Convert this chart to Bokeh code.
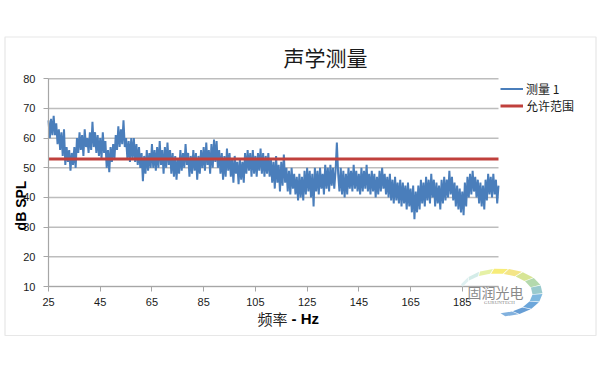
import math
from bokeh.plotting import figure
from bokeh.models import (Label, Legend, LegendItem, FixedTicker, Range1d, LinearAxis,
                          BoxAnnotation, PolyAnnotation)
from bokeh.embed import file_html
from bokeh.resources import INLINE

# ---------------- data ----------------
title_text = "声学测量"
x_title_cn = "频率"
x_title_en = "- Hz"
y_title = "dB SPL"
series_name = "测量 1"
limit_name = "允许范围"

freq_start = 25.0
freq_step = 0.5
spl = [
    66, 60, 66.5, 61, 67.5, 61, 65, 58, 63, 56,
    62, 54, 63, 51, 57, 52, 56, 49, 55, 51,
    57, 50, 60, 55, 62, 56, 61, 54, 63, 57,
    60, 55, 62, 56, 65.5, 57, 62, 55, 61, 54,
    60, 53, 62, 55, 59, 50, 56, 48.5, 57, 52,
    58, 53, 61, 56, 64, 57, 63, 58, 66, 57,
    60, 53, 59, 52, 60, 53, 60, 52, 58, 51,
    57, 50, 55, 45.5, 54, 48, 56, 49, 55, 50,
    58, 50, 56, 49, 57, 50, 59, 51, 56, 48,
    57, 50, 58.5, 51, 56, 48, 55, 47, 54, 46,
    53, 48, 56, 49, 55, 50, 58, 51, 55, 47,
    54, 48, 56, 49, 55, 46, 54, 48, 56, 50,
    57, 49, 58.5, 51, 56, 48, 58, 50, 59.5, 52,
    59, 50, 56, 48, 55, 46, 54, 47, 56.5, 49,
    55, 47, 53, 45, 54, 48, 52, 44.5, 53, 46,
    52, 45, 55, 48, 56, 49, 55, 47, 56, 48,
    54, 47, 55, 49, 56.5, 48, 55, 47, 54, 48,
    55, 47, 53, 45, 52, 43, 54, 45, 51, 42,
    52, 44, 54.5, 45, 50, 42, 49, 41, 50, 43,
    48, 41, 47, 39, 48, 40, 47, 39, 49, 41,
    50, 42, 49, 40, 48, 37, 50, 42, 49, 41,
    50, 43, 48, 41, 51, 43, 50, 42, 51, 44,
    50, 43, 49, 58.5, 48, 42, 50, 41, 49, 40,
    48, 41, 50, 43, 49, 42, 51, 43, 49, 42,
    48, 41, 50, 42, 49, 43, 51, 42, 48, 41,
    49, 42, 48, 40, 47, 41, 49, 42, 50, 43,
    48, 41, 47, 40, 48, 39, 46, 38, 47, 39,
    45, 38, 46, 37, 45, 38, 44, 36, 45, 37,
    43, 35, 44, 32.7, 42, 35, 44, 36, 46, 38,
    45, 37, 47, 39, 46, 38, 48, 40, 46, 37,
    45, 38, 44, 36, 46, 38, 47, 39, 46, 40,
    49, 41, 47, 39, 45, 37, 44, 36, 43, 35,
    42, 34, 45, 37, 47, 40, 48, 41, 49, 42,
    47, 40, 46, 38, 45, 37, 44, 36, 46, 39,
    48, 41, 47, 40, 48, 41, 46, 38, 44,
]
limit_db = 53
x_ticks = [25, 45, 65, 85, 105, 125, 145, 165, 185]
y_ticks = [10, 20, 30, 40, 50, 60, 70, 80]
x_min, x_max = 25, 199
y_min, y_max = 10, 80

freq = [freq_start + i * freq_step for i in range(len(spl))]

# ---------------- layout (page px) ----------------
W, H = 600, 372
PL, PR, PT, PB = 48.0, 498.0, 78.3, 286.0   # plot area in page pixels

kx = (x_max - x_min) / (PR - PL)
ky = (y_max - y_min) / (PB - PT)
x_lo = x_min - PL * kx
x_hi = x_max + (W - PR) * kx
y_hi = y_max + PT * ky
y_lo = y_min - (H - PB) * ky


def sx(px):
    return px


def sy(py):
    return H - py


p = figure(width=W, height=H, output_backend="svg", toolbar_location=None,
           x_range=Range1d(x_lo, x_hi), y_range=Range1d(y_lo, y_hi),
           x_axis_type=None, y_axis_type=None,
           min_border=0, min_border_left=0, min_border_right=0,
           min_border_top=0, min_border_bottom=0)
p.title.visible = False
p.background_fill_color = "white"
p.border_fill_color = "white"
p.outline_line_color = None
p.xgrid.visible = False
p.ygrid.visible = False

blue = "#4a7ebb"
red = "#c0403c"
grid_c = "#bdbdbd"
axis_c = "#a6a6a6"

# chart border
p.add_layout(BoxAnnotation(left=sx(4.5), right=sx(595.5), top=sy(36.5), bottom=sy(335),
                           left_units="screen", right_units="screen",
                           top_units="screen", bottom_units="screen",
                           fill_alpha=0, line_color="#b0b0b0", line_width=1.2,
                           level="underlay"))

# horizontal gridlines (within plot area)
p.segment(x0=[x_min] * len(y_ticks), x1=[x_max] * len(y_ticks), y0=y_ticks, y1=y_ticks,
          line_color=grid_c, line_width=1.5)

# axes placed at the plot area's edges
xax = LinearAxis(fixed_location=y_min, bounds=(x_min, x_max), ticker=FixedTicker(ticks=x_ticks))
yax = LinearAxis(fixed_location=x_min, bounds=(y_min, y_max), ticker=FixedTicker(ticks=y_ticks))
for ax in (xax, yax):
    ax.axis_line_color = axis_c
    ax.axis_line_width = 1.2
    ax.major_tick_line_color = axis_c
    ax.major_tick_out = 5
    ax.major_tick_in = 0
    ax.minor_tick_line_color = None
    ax.major_label_text_font = "Liberation Sans"
    ax.major_label_text_font_size = "11px"
    ax.major_label_text_color = "#1a1a1a"
xax.major_label_standoff = 6
yax.major_label_standoff = 8
p.add_layout(xax, "below")
p.add_layout(yax, "left")

r_meas = p.line(freq, spl, line_color=blue, line_width=2)
r_lim = p.line([freq[0], freq[-1]], [limit_db, limit_db], line_color=red, line_width=3)

# title
p.add_layout(Label(x=sx(325), y=sy(56), x_units="screen", y_units="screen",
                   text=title_text, text_font="Noto Sans CJK SC", text_font_size="21px",
                   text_align="center", text_baseline="middle", text_color="#1a1a1a"))

# y axis title
p.add_layout(Label(x=sx(20), y=sy(205), x_units="screen", y_units="screen",
                   text=y_title, angle=math.pi / 2, text_font="Liberation Sans",
                   text_font_style="bold", text_font_size="14px",
                   text_align="center", text_baseline="middle", text_color="#000000"))

# x axis title
p.add_layout(Label(x=sx(287), y=sy(318), x_units="screen", y_units="screen",
                   text=x_title_cn, text_font="Noto Sans CJK SC", text_font_size="15px",
                   text_align="right", text_baseline="middle", text_color="#262626"))
p.add_layout(Label(x=sx(291), y=sy(318), x_units="screen", y_units="screen",
                   text=x_title_en, text_font="Liberation Sans", text_font_style="bold",
                   text_font_size="15px", text_align="left", text_baseline="middle",
                   text_color="#000000"))

# legend
legend = Legend(items=[LegendItem(label=series_name, renderers=[r_meas]),
                       LegendItem(label=limit_name, renderers=[r_lim])],
                location=(sx(500), sy(113.5)), orientation="vertical",
                padding=0, margin=0, spacing=0, border_line_color=None,
                background_fill_alpha=0, glyph_width=23, glyph_height=15,
                label_height=15, label_standoff=3,
                label_text_font="Noto Sans CJK SC", label_text_font_size="12px",
                label_text_color="#1a1a1a")
p.add_layout(legend)

# watermark logo (crescent + text)
logo_cols = ["#dbeef0", "#cfeae6", "#e3ef9c", "#f6ea6a", "#f3e27a", "#d3e28a",
             "#acd5a4", "#8ec4c8", "#70b0dc", "#5c9cd6", "#5693d0", "#74a9da"]
cx, cy = 500, 292
n = len(logo_cols)
a0, a1 = 160.0, -85.0
for i, col in enumerate(logo_cols):
    t0 = math.radians(a0 + (a1 - a0) * i / n)
    t1 = math.radians(a0 + (a1 - a0) * (i + 1) / n + 1.5)
    pts = []
    for t in (t0, t1):
        pts.append((cx + 42 * math.cos(t), cy - 24 * math.sin(t)))
    for t in (t1, t0):
        pts.append((cx - 4 + 36 * math.cos(t), cy + 1 - 20 * math.sin(t)))
    p.add_layout(PolyAnnotation(xs=[sx(a) for a, b in pts], ys=[sy(b) for a, b in pts],
                                xs_units="screen", ys_units="screen",
                                fill_color=col, fill_alpha=0.9, line_color=None))
p.add_layout(Label(x=sx(495), y=sy(291), x_units="screen", y_units="screen",
                   text="固润光电", text_font="Noto Sans CJK SC", text_font_size="14px",
                   text_align="center", text_baseline="middle", text_color="#8a8a8a"))
p.add_layout(Label(x=sx(499), y=sy(302), x_units="screen", y_units="screen",
                   text="GURUNTECH", text_font="Liberation Serif", text_font_size="5px",
                   text_align="center", text_baseline="middle", text_color="#8a8a8a"))

open("out.html", "w").write(file_html(p, INLINE))
